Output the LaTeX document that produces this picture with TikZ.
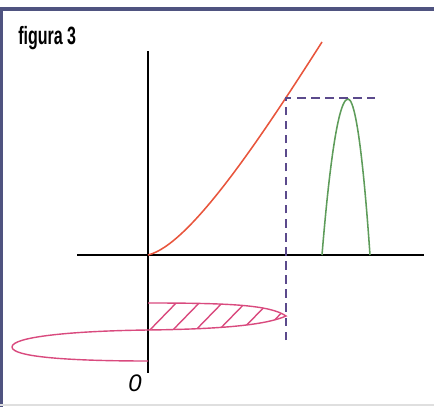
\documentclass[tikz,border=0pt]{standalone}
\usepackage{fontspec}
\newfontfamily\condfont{Liberation Sans}[FakeStretch=0.64]
\newfontfamily\labelfont{Liberation Sans}
\usetikzlibrary{calc}
\definecolor{framecol}{HTML}{4F5380}
\definecolor{curvered}{HTML}{E8553C}
\definecolor{peakgreen}{HTML}{5E9C5A}
\definecolor{dashpurple}{HTML}{5B4A8C}
\definecolor{lenspink}{HTML}{D94A7E}

\begin{document}
\begin{tikzpicture}[
    x=0.025cm,
    y=-0.025cm,
    frame/.style={
        draw=framecol,
        line width=2.2pt
    },
    axis/.style={
        draw=black,
        line width=1.3pt
    },
    curve/.style={
        draw=curvered,
        line width=1.1pt
    },
    peak/.style={
        draw=peakgreen,
        line width=1.1pt
    },
    guide/.style={
        draw=dashpurple,
        line width=1.3pt,
        dash pattern=on 6pt off 4pt
    },
    lens/.style={
        draw=lenspink,
        line width=1pt
    },
    title/.style={
        font={\condfont\bfseries\fontsize{17.8}{20}\selectfont},
        anchor=base west,
        inner sep=0pt
    },
    zero/.style={
        font={\labelfont\itshape\fontsize{17}{20}\selectfont},
        anchor=base,
        inner sep=0pt
    }
]
\useasboundingbox (0,0) rectangle (434,407);

% Frame
\draw [frame] (1,407) -- (1,9) -- (434,9);
\draw [gray!25, line width=1pt] (0,405) -- (434,405);

% Nodes
\node (fig) [title] at (18,45) {figura 3};
\coordinate (O) at (148,255);
\coordinate (xl) at (77,255);
\coordinate (xr) at (424,255);
\coordinate (yt) at (148,51);
\coordinate (yb) at (148,373);
\coordinate (P) at (286,98);
\coordinate (Pd) at (286,340);
\coordinate (Pr) at (375,98);
\coordinate (g1) at (322,255);
\coordinate (gtop) at (348,99);
\coordinate (g2) at (370,255);
\coordinate (tip) at (286,316);
\node (zero) [zero] at (135,391) {0};

% Paths
\draw [axis] (xl) -- (xr);
\draw [axis] (yt) -- (yb);
\draw [curve] (O) .. controls (190,245) and (262,136) .. (322,42);
\draw [peak] (g1) parabola bend (gtop) (g2);
\draw [guide] (Pd) -- (P) -- (Pr);

% Hatched lens
\begin{scope}
    \clip (148,303) .. controls (230,303) and (270,305) .. (tip)
        .. controls (268,324) and (230,329) .. (148,330) -- cycle;
    \foreach \i in {0,...,6}
        \draw [lens] (145+\i*23,335) -- ++(36,-37);
\end{scope}
\draw [lens] (148,303) .. controls (230,303) and (270,305) .. (tip)
    .. controls (268,324) and (230,329) .. (148,330);
\draw [lens] (148,330) .. controls (70,331) and (12,337) .. (12,347)
    .. controls (12,357) and (70,361) .. (148,361);

\end{tikzpicture}
\end{document}
